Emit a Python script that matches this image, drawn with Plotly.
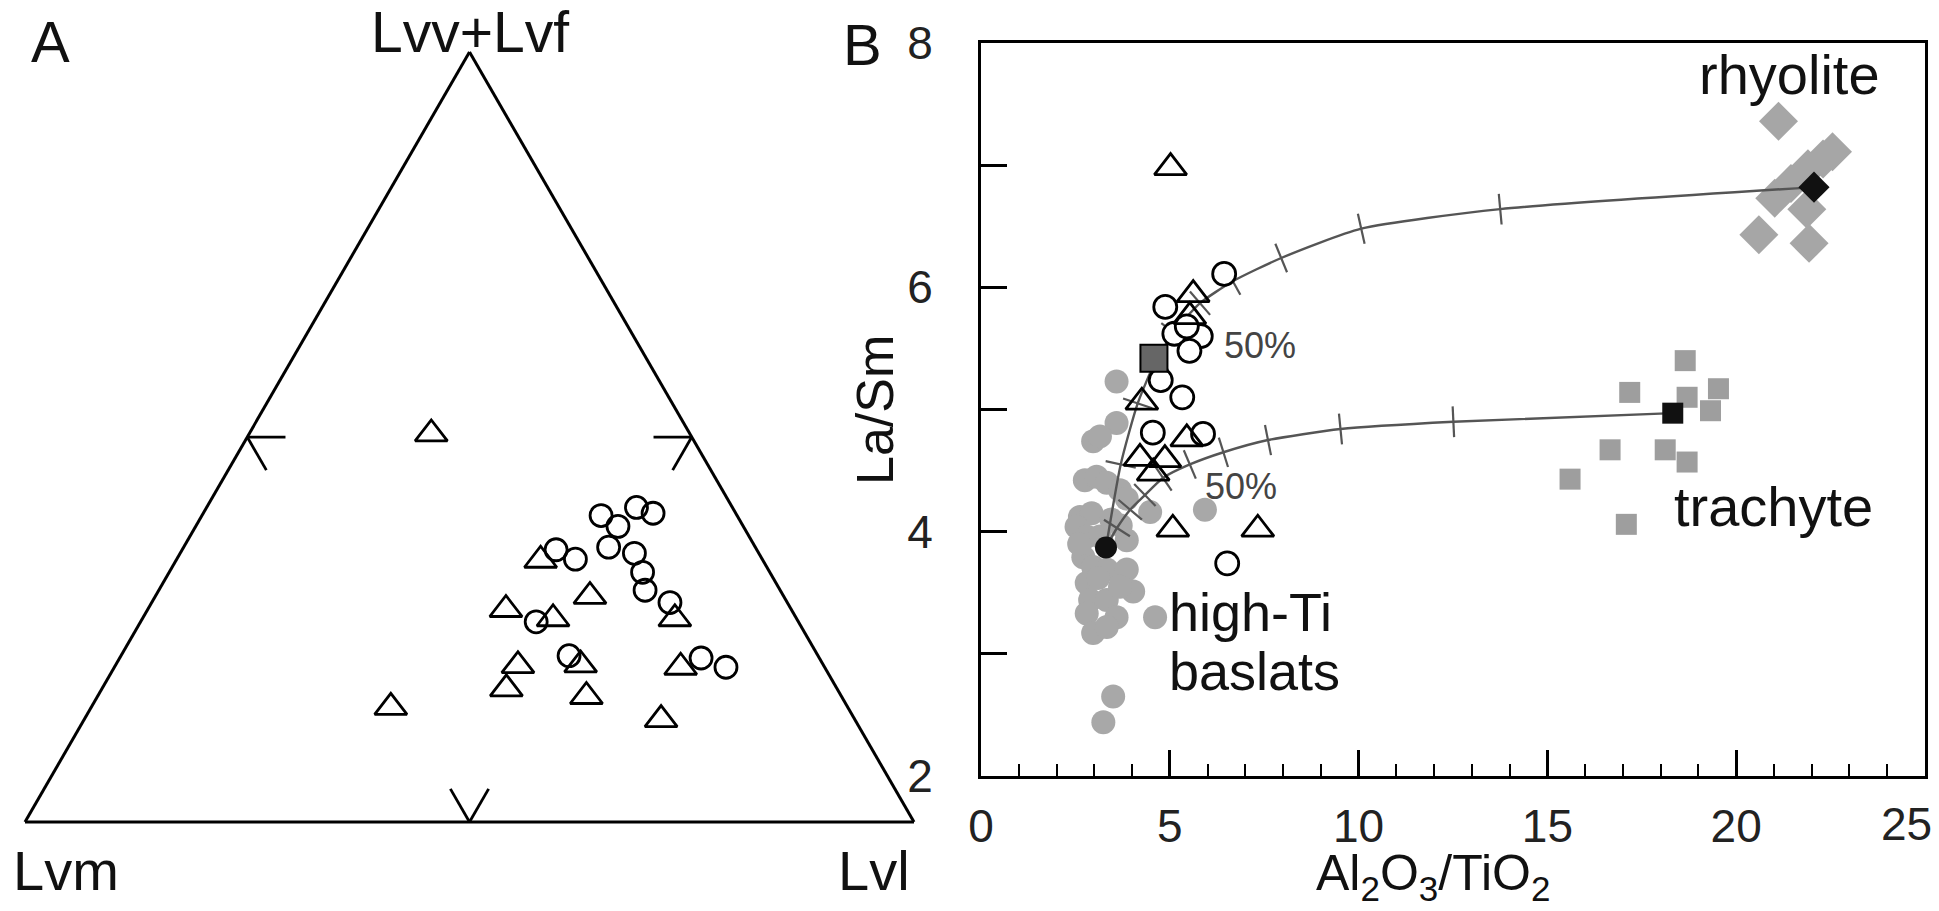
import numpy as np
import plotly.graph_objects as go

W, H = 1939, 911
FONT = "Liberation Sans, Arial, sans-serif"

# ---------------- Panel A: lithic fragment modes (%) ----------------
# open triangles
tri_lvvf = [50.4, 34.0, 29.3, 27.6, 26.4, 26.4, 20.3, 20.4, 20.1, 17.3, 16.3, 14.9, 13.3]
tri_lvm = [29.1, 25.0, 21.8, 32.1, 27.4, 13.7, 34.4, 27.3, 16.2, 37.2, 28.7, 51.4, 21.8]
tri_lvl = [20.5, 41.0, 48.9, 40.3, 46.2, 59.9, 45.3, 52.3, 63.7, 45.5, 55.0, 33.7, 64.9]
# open circles
cir_lvvf = [39.8, 40.9, 40.1, 38.4, 35.7, 34.9, 35.4, 34.1, 32.4, 30.1, 28.5, 26.0, 21.6, 21.3, 20.1]
cir_lvm = [15.3, 10.8, 9.3, 14.1, 16.5, 14.0, 22.6, 21.0, 14.3, 15.2, 13.2, 29.5, 28.0, 13.3, 11.1]
cir_lvl = [44.9, 48.4, 50.6, 47.5, 47.8, 51.1, 42.1, 44.8, 53.2, 54.7, 58.3, 44.5, 50.4, 65.4, 68.8]

# ---------------- Panel B: Al2O3/TiO2 vs La/Sm ----------------
# high-Ti basalts
bas_x = [3.59, 3.59, 2.97, 3.15, 2.75, 3.06, 3.33, 3.68, 2.62, 2.93, 3.86, 4.48, 5.93,
         2.53, 2.80, 3.15, 3.86, 2.71, 2.97, 2.80, 3.33, 3.86, 4.03, 2.89, 3.33, 3.68,
         2.80, 3.59, 2.97, 3.33, 4.61, 3.50, 3.24, 3.45, 3.10, 2.60, 3.70]
bas_y = [5.23, 4.89, 4.74, 4.78, 4.42, 4.45, 4.40, 4.34, 4.12, 4.15, 4.27, 4.16, 4.18,
         4.04, 3.96, 3.96, 3.93, 3.79, 3.71, 3.58, 3.69, 3.69, 3.51, 3.44, 3.44, 3.55,
         3.33, 3.30, 3.17, 3.22, 3.30, 2.65, 2.44, 4.10, 3.62, 3.90, 4.05]
# trachytes
tra_x = [18.65, 17.18, 18.70, 19.53, 19.32, 16.66, 18.12, 18.70, 15.60, 17.09]
tra_y = [5.40, 5.14, 5.10, 5.17, 4.99, 4.67, 4.67, 4.57, 4.43, 4.06]
# rhyolites
rhy_x = [21.12, 22.55, 22.30, 21.90, 21.45, 21.02, 21.87, 20.60, 21.93]
rhy_y = [7.36, 7.11, 7.05, 6.97, 6.85, 6.73, 6.64, 6.43, 6.36]
# samples
smp_c_x = [6.44, 4.88, 5.12, 5.82, 5.52, 5.45, 4.76, 5.33, 4.55, 5.88, 6.52]
smp_c_y = [6.11, 5.84, 5.62, 5.60, 5.48, 5.68, 5.24, 5.10, 4.81, 4.80, 3.74]
smp_t_x = [5.02, 5.62, 5.53, 4.26, 5.45, 4.21, 4.87, 4.56, 5.08, 7.33]
smp_t_y = [6.98, 5.94, 5.76, 5.06, 4.76, 4.60, 4.59, 4.48, 4.02, 4.02]
# end members
basalt_em = (3.31, 3.87)
trachyte_em = (18.32, 4.97)
rhyolite_em = (22.06, 6.82)
mean_smp = (4.58, 5.42)
# mixing curves (10 % steps between end members)
mix_r_x = [3.31, 3.70, 4.15, 4.60, 5.10, 5.80, 6.67, 7.95, 10.07, 13.75, 22.06]
mix_r_y = [3.87, 4.55, 5.05, 5.38, 5.63, 5.87, 6.05, 6.24, 6.48, 6.64, 6.82]
mix_t_x = [3.31, 3.60, 3.95, 4.34, 4.82, 5.53, 6.42, 7.60, 9.52, 12.51, 18.32]
mix_t_y = [3.87, 4.03, 4.18, 4.30, 4.44, 4.55, 4.65, 4.75, 4.84, 4.90, 4.97]

x_ticks = [0, 5, 10, 15, 20, 25]
y_ticks = [2, 4, 6, 8]

fig = go.Figure()

# ---- ternary panel ----
tern_line = dict(color="black", width=2.8)
tick = 4.3  # length of the 50 % marks, in percent
for a, b, c in [
    ([50, 50], [50, 50 - tick], [0, tick]),
    ([50, 50 - tick], [50, 50], [0, tick]),
    ([50, 50], [0, tick], [50, 50 - tick]),
    ([50, 50 - tick], [0, tick], [50, 50]),
    ([0, tick], [50, 50 - tick], [50, 50]),
    ([0, tick], [50, 50], [50, 50 - tick]),
]:
    fig.add_trace(go.Scatterternary(a=a, b=b, c=c, mode="lines", line=tern_line,
                                    showlegend=False, hoverinfo="skip", cliponaxis=False))

fig.add_trace(go.Scatterternary(
    a=cir_lvvf, b=cir_lvm, c=cir_lvl, mode="markers", showlegend=False,
    marker=dict(symbol="circle-open", size=22, color="black", line=dict(width=2.8))))
fig.add_trace(go.Scatterternary(
    a=tri_lvvf, b=tri_lvm, c=tri_lvl, mode="markers", showlegend=False,
    marker=dict(symbol="triangle-up-open", size=28, color="black", line=dict(width=2.8))))

# ternary geometry: side 889 px, lower-left vertex at (25, 822)
side = 889.0
tri_h = side * np.sqrt(3) / 2
cx, cy = 25 + side / 2, 822 - tri_h / 2
tdx = [(cx - side / 2) / W, (cx + side / 2) / W]
tdy = [1 - (cy + tri_h / 2) / H, 1 - (cy - tri_h / 2) / H]
tax = dict(showticklabels=False, ticks="", showgrid=False, showline=True,
           linecolor="black", linewidth=3, min=0, title=dict(text=""))
fig.update_layout(ternary=dict(domain=dict(x=tdx, y=tdy), sum=100, bgcolor="white",
                               aaxis=tax, baxis=tax, caxis=tax))

# ---- x-y panel ----
xd = [981 / W, 1925 / W]
yd = [1 - 776 / H, 1 - 43 / H]

fig.add_trace(go.Scatter(x=bas_x, y=bas_y, mode="markers", showlegend=False, xaxis="x", yaxis="y",
                         marker=dict(symbol="circle", size=24, color="#a8a8a8")))
fig.add_trace(go.Scatter(x=tra_x, y=tra_y, mode="markers", showlegend=False,
                         marker=dict(symbol="square", size=21, color="#9e9e9e")))
fig.add_trace(go.Scatter(x=rhy_x, y=rhy_y, mode="markers", showlegend=False,
                         marker=dict(symbol="diamond", size=30, color="#a6a6a6")))

curve = dict(color="#555555", width=2.4)
fig.add_trace(go.Scatter(x=mix_r_x, y=mix_r_y, mode="lines", showlegend=False,
                         line=dict(shape="spline", smoothing=0.6, **curve)))
fig.add_trace(go.Scatter(x=mix_t_x, y=mix_t_y, mode="lines", showlegend=False,
                         line=dict(shape="spline", smoothing=0.6, **curve)))

# short marks across each mixing curve at every 10 % step
kx = W * (xd[1] - xd[0]) / 25.0
ky = H * (yd[1] - yd[0]) / 6.0
for mx, my in [(mix_r_x, mix_r_y), (mix_t_x, mix_t_y)]:
    mx, my = np.asarray(mx), np.asarray(my)
    dxp = (mx[2:] - mx[:-2]) * kx
    dyp = (my[2:] - my[:-2]) * ky
    ang = -np.degrees(np.arctan2(dyp, dxp))
    fig.add_trace(go.Scatter(x=mx[1:-1], y=my[1:-1], mode="markers", showlegend=False,
                             marker=dict(symbol="line-ns", size=22, angle=ang,
                                         line=dict(color="#555555", width=2.2))))

fig.add_trace(go.Scatter(x=smp_c_x, y=smp_c_y, mode="markers", showlegend=False,
                         marker=dict(symbol="circle", size=23, color="white",
                                     line=dict(color="black", width=2.8))))
fig.add_trace(go.Scatter(x=smp_t_x, y=smp_t_y, mode="markers", showlegend=False,
                         marker=dict(symbol="triangle-up-open", size=28, color="black",
                                     line=dict(width=2.8))))
fig.add_trace(go.Scatter(x=[mean_smp[0]], y=[mean_smp[1]], mode="markers", showlegend=False,
                         marker=dict(symbol="square", size=27, color="#666666",
                                     line=dict(color="black", width=2))))
fig.add_trace(go.Scatter(x=[basalt_em[0]], y=[basalt_em[1]], mode="markers", showlegend=False,
                         marker=dict(symbol="circle", size=22, color="#111111")))
fig.add_trace(go.Scatter(x=[trachyte_em[0]], y=[trachyte_em[1]], mode="markers", showlegend=False,
                         marker=dict(symbol="square", size=21, color="#111111")))
fig.add_trace(go.Scatter(x=[rhyolite_em[0]], y=[rhyolite_em[1]], mode="markers", showlegend=False,
                         marker=dict(symbol="diamond", size=24, color="#111111")))

axis_common = dict(showline=True, linecolor="black", linewidth=3, mirror=True,
                   showgrid=False, zeroline=False, ticks="inside", ticklen=26,
                   tickwidth=2.5, tickcolor="black", automargin=False,
                   tickfont=dict(family=FONT, size=46, color="#222"))
# the last x label would run past the page edge, so it is written just inside it below
fig.update_layout(
    xaxis=dict(domain=xd, range=[0, 25], tickvals=x_ticks[:-1],
               minor=dict(dtick=1, ticks="inside", ticklen=12, tickwidth=2, tickcolor="black"),
               ticklabelstandoff=8, anchor="y", **axis_common),
    yaxis=dict(domain=yd, range=[2, 8], tickvals=y_ticks,
               minor=dict(dtick=1, ticks="inside", ticklen=26, tickwidth=2.5, tickcolor="black"),
               ticklabelstandoff=36, anchor="x", **axis_common),
)

ann = []
def label(text, x, y, size, xref="paper", yref="paper", xanchor="center", color="#111",
          align="center", angle=0):
    if xref == "paper":
        x = x / W
    if yref == "paper":
        y = 1 - y / H
    ann.append(dict(text=text, x=x, y=y, xref=xref, yref=yref, showarrow=False,
                    xanchor=xanchor, yanchor="middle", align=align, textangle=angle,
                    font=dict(family=FONT, size=size, color=color)))

# panel letters and vertex names (pixel positions on the page)
label("A", 50, 42, 58)
label("B", 862, 45, 58)
label("Lvv+Lvf", 470, 32, 57)
label("Lvm", 66, 870, 56)
label("Lvl", 874, 870, 56)
# axis titles and the edge tick label
label("La/Sm", 875, 410, 52, angle=-90)
label("Al<sub>2</sub>O<sub>3</sub>/TiO<sub>2</sub>", 1433, 876, 50)
label(str(x_ticks[-1]), 1906, 824, 46, color="#222")
# field names
label("rhyolite", 1882, 74, 56, xanchor="right")
label("trachyte", 1875, 507, 56, xanchor="right")
label("high-Ti", 4.92, 3.34, 54, xref="x", yref="y", xanchor="left")
label("baslats", 4.92, 2.86, 54, xref="x", yref="y", xanchor="left")
label("50%", 7.4, 5.52, 36, xref="x", yref="y", color="#444")
label("50%", 6.88, 4.37, 36, xref="x", yref="y", color="#444")

fig.update_layout(width=W, height=H, margin=dict(l=0, r=0, t=0, b=0, autoexpand=False),
                  paper_bgcolor="white", plot_bgcolor="white",
                  annotations=ann, showlegend=False)

fig.write_html("out.html")
